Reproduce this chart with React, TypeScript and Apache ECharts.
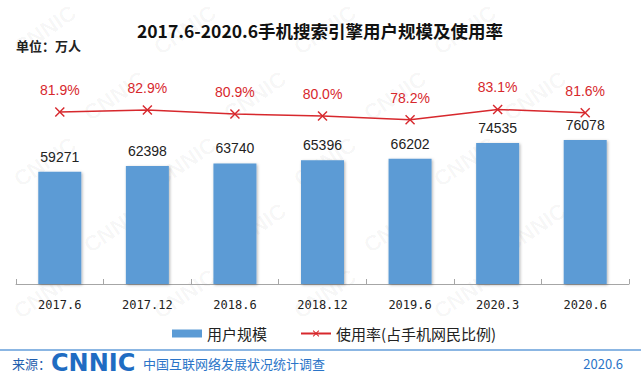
import React, { useEffect, useRef } from "react";
import * as echarts from "echarts";

const categories = ["2017.6", "2017.12", "2018.6", "2018.12", "2019.6", "2020.3", "2020.6"];
const userScale = [59271, 62398, 63740, 65396, 66202, 74535, 76078];
const usageRate = [81.9, 82.9, 80.9, 80.0, 78.2, 83.1, 81.6];
const seriesNames = ["用户规模", "使用率(占手机网民比例)"];
const titleText = "2017.6-2020.6手机搜索引擎用户规模及使用率";
const unitText = "单位：万人";
const sourceLabel = "来源：";
const logoText = "CNNIC";
const surveyName = "中国互联网络发展状况统计调查";
const releaseDate = "2020.6";

const CJK = '"Noto Sans CJK SC", "Noto Sans", sans-serif';
const BLUE = "#5B9BD5";
const RED = "#D7282D";
const X_MARK = "path://M0,1L1,0L5,4L9,0L10,1L6,5L10,9L9,10L5,6L1,10L0,9L4,5Z";

function txt(x: number, y: number, text: string, opts: any) {
  const { align = "left", vAlign = "middle", ...rest } = opts;
  return {
    type: "text",
    x,
    y,
    style: {
      text,
      align,
      textAlign: align,
      verticalAlign: vAlign,
      textVerticalAlign: vAlign,
      ...rest,
    },
  };
}

function watermarks() {
  const out: any[] = [];
  for (let r = 0; r < 6; r++) {
    for (let c = 0; c < 6; c++) {
      const x = c * 140 + (r % 2) * 70 + 45;
      const y = r * 66 + 30;
      if (x < 40 || x > 600 || y < 25 || y > 350) continue;
      out.push({
        type: "text",
        x,
        y,
        rotation: 0.6,
        z: -10,
        silent: true,
        style: {
          text: "CNNIC",
          fill: "rgba(0,0,0,0.04)",
          fontSize: 22,
          fontWeight: "bold",
          fontFamily: "Liberation Sans",
          align: "center",
          verticalAlign: "middle",
        },
      });
    }
  }
  return out;
}

export default function App() {
  const ref = useRef<HTMLDivElement>(null);
  useEffect(() => {
    if (!ref.current) return;
    const chart = echarts.init(ref.current, undefined, { renderer: "svg" });
    chart.setOption({
      animation: false,
      backgroundColor: "#ffffff",
      grid: { left: 16, right: 12, top: 74, bottom: 93 },
      legend: {
        left: 167,
        top: 321,
        itemWidth: 30,
        itemHeight: 8,
        itemGap: 33,
        textStyle: { fontSize: 15, color: "#222", fontFamily: CJK },
        data: [
          { name: seriesNames[0], icon: "rect" },
          { name: seriesNames[1] },
        ],
      },
      xAxis: {
        type: "category",
        data: categories,
        axisLine: { lineStyle: { color: "#a6a6a6", width: 1 } },
        axisTick: { show: true, inside: true, length: 5, lineStyle: { color: "#a6a6a6" } },
        axisLabel: {
          margin: 15,
          fontSize: 12,
          color: "#222",
          fontFamily: '"DejaVu Sans Mono", monospace',
        },
      },
      yAxis: [
        { type: "value", min: 0, max: 111000, show: false, splitLine: { show: false } },
        { type: "value", min: 0, max: 100, show: false, splitLine: { show: false } },
      ],
      series: [
        {
          name: seriesNames[0],
          type: "bar",
          data: userScale,
          barWidth: 43,
          itemStyle: {
            color: BLUE,
            shadowColor: "rgba(0,0,0,0.3)",
            shadowBlur: 3,
            shadowOffsetX: 1,
            shadowOffsetY: 1,
          },
          label: {
            show: true,
            position: "top",
            distance: 8,
            fontSize: 14,
            color: "#222",
            fontFamily: "Liberation Sans, Arial, sans-serif",
          },
        },
        {
          name: seriesNames[1],
          type: "line",
          yAxisIndex: 1,
          data: usageRate,
          symbol: X_MARK,
          symbolSize: 10,
          lineStyle: { color: RED, width: 1.5 },
          itemStyle: { color: RED },
          label: {
            show: true,
            position: "top",
            distance: 10,
            fontSize: 14,
            color: RED,
            fontFamily: "Liberation Sans, Arial, sans-serif",
            formatter: (p: any) => Number(p.value).toFixed(1) + "%",
          },
        },
      ],
      graphic: [
        ...watermarks(),
        txt(320, 30, titleText, {
          align: "center",
          fill: "#111",
          fontSize: 17.5,
          fontWeight: "bold",
          fontFamily: CJK,
        }),
        txt(16, 45, unitText, {
          fill: "#222",
          fontSize: 13,
          fontWeight: "bold",
          fontFamily: CJK,
        }),
        {
          type: "line",
          shape: { x1: 0, y1: 350, x2: 641, y2: 350 },
          style: { stroke: "#8BB6E3", lineWidth: 2 },
        },
        txt(12, 363, sourceLabel, {
          fill: "#1F5EAD",
          fontSize: 13,
          fontFamily: CJK,
        }),
        txt(51, 363, logoText, {
          fill: "#1F6CC2",
          fontSize: 24,
          fontWeight: "bold",
          fontFamily: "DejaVu Sans",
        }),
        txt(143, 363, surveyName, {
          fill: "#2A74C8",
          fontSize: 13,
          fontFamily: CJK,
        }),
        txt(623, 363, releaseDate, {
          align: "right",
          fill: "#2A74C8",
          fontSize: 13,
          fontFamily: CJK,
        }),
      ],
    });
    return () => chart.dispose();
  }, []);
  return <div ref={ref} style={{ width: 641, height: 377, position: "absolute", left: 0, top: 0 }} />;
}
